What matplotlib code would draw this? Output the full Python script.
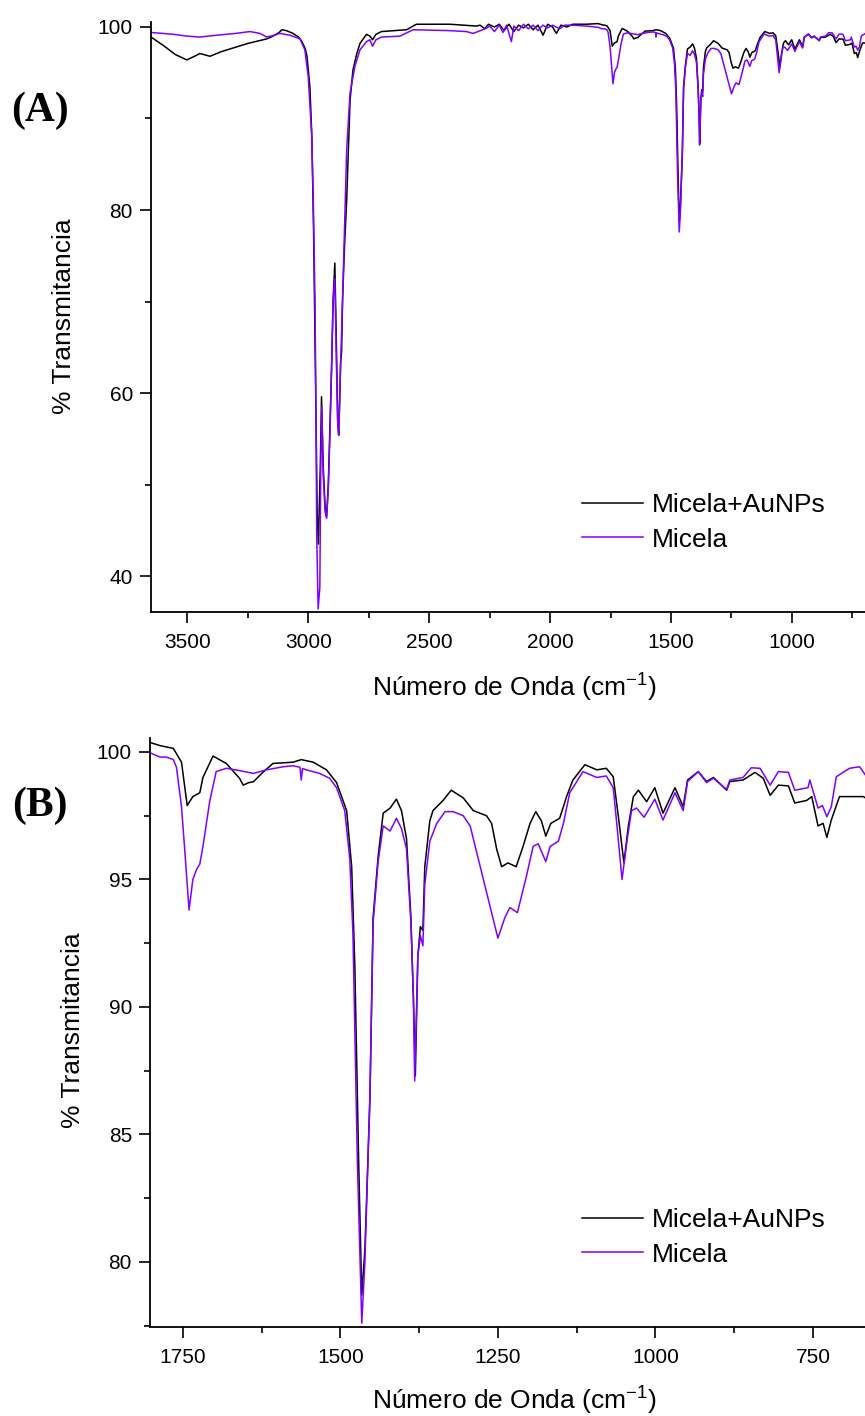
import matplotlib
matplotlib.use("Agg")
import matplotlib.pyplot as plt
from matplotlib.ticker import MultipleLocator

plt.rcParams['font.family'] = ['Liberation Sans', 'DejaVu Sans']
plt.rcParams['mathtext.fontset'] = 'custom'
plt.rcParams['mathtext.rm'] = 'Liberation Sans'
plt.rcParams['mathtext.default'] = 'regular'

# Micela+AuNPs (black): wavenumber (cm-1) and % transmittance
wn_aunps = [3650, 3600, 3550, 3502, 3470, 3448, 3420, 3406, 3360, 3311, 3250, 3171,
            3146, 3120, 3109, 3090, 3063, 3040, 3026, 3012, 3005, 2993, 2985, 2978,
            2970, 2963, 2958, 2950, 2945, 2938, 2930, 2924, 2917, 2910, 2903, 2897,
            2890, 2884, 2878, 2874, 2870, 2866, 2862, 2858, 2850, 2841, 2827, 2815,
            2800, 2786, 2759, 2745, 2734, 2720, 2697, 2593, 2560, 2552, 2414, 2304,
            2290, 2270, 2255, 2230, 2210, 2190, 2170, 2150, 2130, 2110, 2090, 2070,
            2050, 2029, 2010, 1990, 1974, 1955, 1930, 1906, 1850,
            1802, 1786, 1765, 1752, 1743, 1734, 1723, 1718, 1702, 1681, 1660, 1654,
            1645, 1638, 1623, 1607, 1575, 1562, 1543, 1522, 1506, 1490, 1482, 1477,
            1471, 1466, 1461, 1453, 1448, 1440, 1432, 1421, 1411, 1403, 1395, 1388,
            1384, 1381, 1377, 1373, 1369, 1366, 1358, 1353, 1337, 1324, 1305, 1289,
            1268, 1260, 1252, 1244, 1234, 1221, 1210, 1199, 1190, 1181, 1174, 1166,
            1152, 1141, 1131, 1112, 1093, 1078, 1067, 1059, 1050, 1043, 1035, 1027,
            1014, 1001, 988, 969, 956, 949, 932, 919, 908, 887, 882, 861,
            842, 829, 818, 805, 789, 779, 760, 752, 742, 734, 728, 721,
            708, 670, 667]
t_aunps = [98.9, 98.0, 97.0, 96.4, 96.8, 97.1, 96.9, 96.8, 97.3, 97.7, 98.2, 98.7,
           99.0, 99.4, 99.7, 99.6, 99.3, 98.9, 98.4, 97.6, 96.8, 93.4, 88.0, 78.0,
           62.0, 47.0, 43.5, 52.0, 59.6, 52.0, 47.5, 46.5, 50.0, 56.3, 63.0, 70.2,
           74.2, 66.0, 57.0, 55.4, 59.0, 63.3, 64.5, 70.2, 76.0, 81.1, 92.0, 95.3,
           97.0, 98.2, 99.2, 99.0, 98.6, 99.2, 99.5, 99.7, 100.2, 100.3, 100.3, 100.1,
           100.2, 99.8, 100.3, 100.0, 100.3, 99.6, 100.3, 99.5, 100.2, 99.9, 100.3, 99.7,
           100.2, 99.1, 100.3, 100.0, 99.3, 100.2, 100.0, 100.3, 100.3,
           100.37, 100.25, 100.14, 99.6, 97.9, 98.25, 98.4, 99.0, 99.84, 99.55, 98.97, 98.7,
           98.8, 98.83, 99.2, 99.55, 99.6, 99.7, 99.6, 99.3, 98.8, 97.7, 95.5, 91.6,
           84.0, 78.7, 80.5, 86.4, 93.5, 95.9, 97.6, 97.8, 98.15, 97.7, 96.6, 93.5,
           90.3, 87.3, 92.0, 93.15, 93.0, 95.5, 97.3, 97.7, 98.1, 98.5, 98.2, 97.7,
           97.5, 97.2, 96.2, 95.5, 95.65, 95.5, 96.3, 97.2, 97.66, 97.3, 96.7, 97.2,
           97.4, 98.25, 98.9, 99.5, 99.3, 99.36, 99.03, 97.5, 95.65, 97.1, 98.25, 98.5,
           98.05, 98.6, 97.6, 98.6, 97.85, 98.9, 99.23, 98.84, 99.0, 98.5, 98.84, 98.9,
           99.2, 98.97, 98.3, 98.7, 98.67, 98.0, 98.1, 98.25, 97.1, 97.2, 96.65, 97.33,
           98.25, 98.25, 98.2]

# Micela (violet)
wn_micela = [3650, 3558, 3500, 3448, 3379, 3300, 3241, 3200, 3186, 3172, 3140, 3117,
             3076, 3034, 3014, 3000, 2986, 2979, 2972, 2968, 2965, 2959, 2952, 2948,
             2944, 2938, 2930, 2924, 2917, 2910, 2897, 2890, 2884, 2878, 2874, 2866,
             2858, 2841, 2827, 2807, 2786, 2759, 2745, 2734, 2720, 2697, 2621, 2566,
             2414, 2346, 2318, 2263, 2250, 2230, 2210, 2195, 2180, 2160, 2150, 2130,
             2110, 2090, 2070, 2050, 2030, 2010, 1990, 1960, 1940, 1906, 1850,
             1802, 1786, 1776, 1765, 1760, 1752, 1747, 1740, 1734, 1728, 1723, 1718,
             1707, 1697, 1681, 1660, 1638, 1617, 1591, 1575, 1564, 1562, 1560, 1554,
             1533, 1517, 1506, 1493, 1485, 1480, 1473, 1466, 1461, 1453, 1448, 1440,
             1432, 1421, 1411, 1403, 1395, 1388, 1384, 1382, 1377, 1373, 1369, 1366,
             1358, 1347, 1334, 1321, 1305, 1294, 1279, 1265, 1250, 1239, 1231, 1219,
             1205, 1194, 1186, 1174, 1167, 1154, 1146, 1136, 1115, 1093, 1078, 1067,
             1061, 1053, 1045, 1038, 1030, 1018, 1001, 988, 969, 956, 949, 932,
             919, 908, 887, 882, 861, 848, 834, 818, 805, 789, 779, 758,
             755, 742, 735, 728, 721, 713, 692, 676, 667]
t_micela = [99.4, 99.2, 99.0, 98.9, 99.1, 99.3, 99.5, 99.3, 99.1, 98.9, 99.1, 99.3,
            99.1, 98.7, 97.5, 94.6, 88.4, 81.1, 70.2, 58.1, 44.7, 36.4, 38.8, 51.9,
            58.5, 51.0, 47.0, 46.3, 49.5, 55.6, 70.2, 72.5, 64.0, 56.5, 55.4, 63.3,
            70.2, 86.6, 92.8, 95.7, 97.5, 98.4, 98.6, 97.9, 98.6, 98.9, 99.0, 99.7,
            99.6, 99.5, 99.3, 99.86, 100.1, 99.5, 100.2, 99.4, 100.2, 98.4, 100.1, 99.6,
            100.3, 99.8, 100.2, 99.6, 100.2, 99.9, 100.2, 99.8, 100.2, 100.2, 100.1,
            99.97, 99.8, 99.8, 99.7, 99.4, 97.85, 96.2, 93.8, 95.0, 95.4, 95.6, 96.3,
            98.1, 99.23, 99.36, 99.27, 99.16, 99.3, 99.42, 99.46, 99.4, 98.9, 99.35, 99.3,
            99.16, 98.97, 98.6, 97.7, 95.8, 92.9, 84.0, 77.6, 80.0, 86.6, 93.3, 95.7,
            97.1, 96.9, 97.4, 97.0, 96.2, 93.3, 90.3, 87.1, 92.0, 92.8, 92.4, 94.8,
            96.5, 97.2, 97.66, 97.66, 97.5, 97.1, 95.6, 94.2, 92.7, 93.5, 93.9, 93.7,
            95.1, 96.3, 96.4, 95.7, 96.3, 96.5, 97.2, 98.4, 99.23, 99.0, 99.06, 98.6,
            97.1, 95.0, 96.55, 97.7, 97.8, 97.44, 98.15, 97.33, 98.4, 97.7, 98.84, 99.23,
            98.8, 98.97, 98.53, 98.9, 99.0, 99.38, 99.36, 98.7, 99.23, 99.2, 98.5, 98.6,
            98.9, 97.8, 97.9, 97.46, 97.85, 99.03, 99.36, 99.42, 99.1]

series_labels = ['Micela+AuNPs', 'Micela']
series_colors = ['black', '#8000FF']

W, H = 865, 1416


def style_axis(ax, xmaj, xmin, ymaj, ymin):
    for side in ('top', 'right'):
        ax.spines[side].set_visible(False)
    for side in ('left', 'bottom'):
        ax.spines[side].set_linewidth(1.3)
    ax.xaxis.set_major_locator(MultipleLocator(xmaj))
    ax.xaxis.set_minor_locator(MultipleLocator(xmin))
    ax.yaxis.set_major_locator(MultipleLocator(ymaj))
    ax.yaxis.set_minor_locator(MultipleLocator(ymin))
    ax.tick_params(which='major', direction='out', length=8, width=1.2, labelsize=15, pad=5)
    ax.tick_params(which='minor', direction='out', length=4.5, width=1.2)
    ax.tick_params(axis='x', which='major', pad=7)


def draw_panel(ax, xlim, ylim, legend_top):
    ax.plot(wn_aunps, t_aunps, color=series_colors[0], lw=1.1, label=series_labels[0])
    ax.plot(wn_micela, t_micela, color=series_colors[1], lw=1.1, label=series_labels[1])
    ax.set_xlim(*xlim)
    ax.set_ylim(*ylim)
    ax.legend(loc='upper left', bbox_to_anchor=(582 / W, 1 - legend_top / H),
              bbox_transform=ax.figure.transFigure, frameon=False, fontsize=19,
              handlelength=2.3, handletextpad=0.35, labelspacing=0.4,
              borderpad=0, borderaxespad=0)


def main():
    fig = plt.figure(figsize=(W / 100, H / 100), dpi=100)

    ax1 = fig.add_axes([151 / W, 1 - 612 / H, (W - 151) / W, (612 - 22.5) / H])
    draw_panel(ax1, (3650, 698), (36.07, 100.49), 493)
    style_axis(ax1, 500, 250, 20, 10)

    ax2 = fig.add_axes([150 / W, 1 - 1327 / H, (W - 150) / W, (1327 - 737.7) / H])
    draw_panel(ax2, (1802, 667.5), (77.45, 100.56), 1208)
    style_axis(ax2, 250, 125, 5, 2.5)

    xlabel = 'Número de Onda (cm$^{-1}$)'
    fig.text(514 / W, 1 - 697 / H, xlabel, fontsize=19, ha='center', va='baseline')
    fig.text(514 / W, 1 - 1410 / H, xlabel, fontsize=19, ha='center', va='baseline')
    fig.text(64 / W, 1 - 316 / H, '% Transmitancia', fontsize=19, rotation=90,
             ha='center', va='center')
    fig.text(73 / W, 1 - 1030 / H, '% Transmitancia', fontsize=19, rotation=90,
             ha='center', va='center')

    fig.text(40 / W, 1 - 111 / H, '(A)', fontsize=30, fontweight='bold',
             family='Liberation Serif', ha='center', va='center')
    fig.text(40 / W, 1 - 806 / H, '(B)', fontsize=30, fontweight='bold',
             family='Liberation Serif', ha='center', va='center')

    fig.savefig('out.png', dpi=100)


if __name__ == "__main__":
    main()
